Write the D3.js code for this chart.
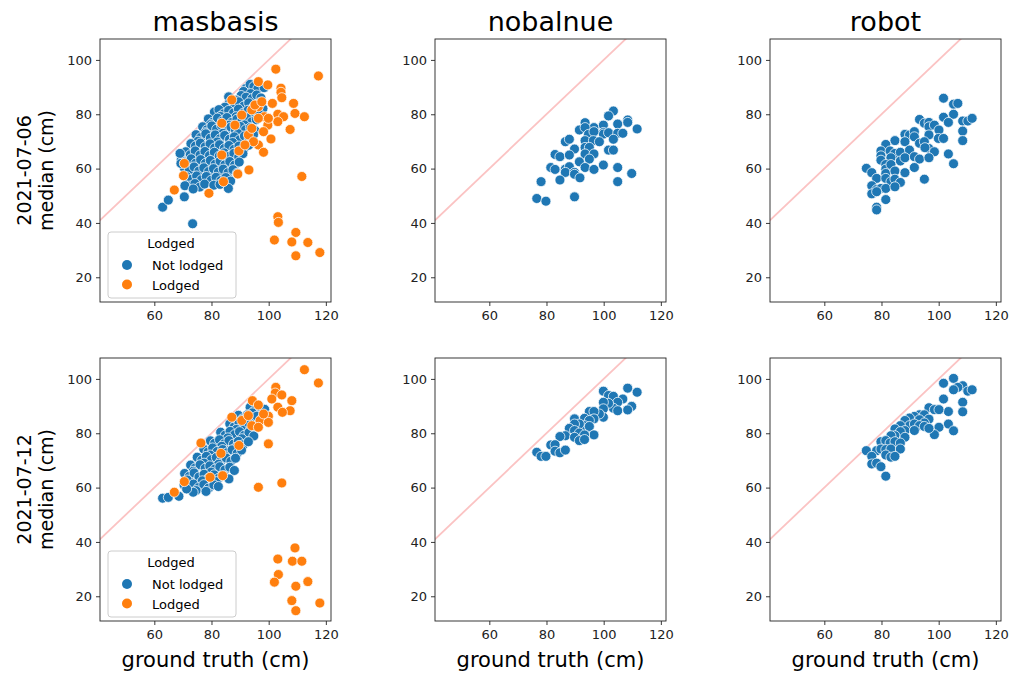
<!DOCTYPE html>
<html>
<head>
<meta charset="utf-8">
<script src="https://cdn.jsdelivr.net/npm/d3@7"></script>
<style>
  body { margin: 0; background: #fff; }
  svg { font-family: "DejaVu Sans", sans-serif; }
</style>
</head>
<body>
<div id="chart"></div>
<script>
const methods = ['masbasis', 'nobalnue', 'robot'];
const dates = ['2021-07-06', '2021-07-12'];
const xTicks = [60, 80, 100, 120];
const yTicks = [20, 40, 60, 80, 100];
const hueLabels = ['Not lodged', 'Lodged'];
const hueColors = ['#1f77b4', '#ff7f0e'];

// points are [ground truth, median]
const masbasis0706NotLodged = [
  [92.0, 89.5], [93.5, 91.0], [94.8, 90.2], [96.2, 89.4], [98.4, 89.8], [91.2, 88.4], [93.7, 87.6],
  [86.0, 86.4], [90.4, 86.9], [92.1, 86.3], [94.2, 85.8], [95.8, 87.1], [97.3, 86.0], [88.6, 85.2], [96.9, 84.3],
  [86.2, 84.1], [87.9, 83.2], [89.5, 84.6], [91.3, 83.0], [93.0, 84.2], [94.8, 82.7], [96.1, 83.5], [84.7, 82.6], [98.0, 82.1],
  [81.0, 80.8], [82.6, 81.7], [84.3, 80.2], [86.0, 81.4], [87.7, 80.5], [89.4, 81.9], [91.1, 80.4], [92.8, 81.5],
  [94.5, 79.9], [96.3, 80.9], [83.1, 79.2], [88.6, 79.1],
  [78.9, 78.3], [80.5, 77.1], [82.1, 78.6], [83.8, 77.5], [85.4, 78.8], [87.1, 77.0], [88.9, 78.2], [90.6, 77.4],
  [92.3, 78.7], [94.0, 77.2], [95.7, 78.0], [79.7, 76.2], [86.2, 76.0], [91.5, 76.1],
  [76.9, 75.4], [78.4, 74.3], [80.1, 75.7], [81.8, 74.5], [83.5, 75.9], [85.1, 74.2], [86.8, 75.3], [88.4, 74.0],
  [90.1, 75.5], [91.9, 74.3], [93.6, 75.1], [95.2, 74.0], [77.8, 73.2], [84.0, 73.0], [89.3, 72.9],
  [74.6, 72.5], [76.2, 71.4], [78.0, 72.8], [79.6, 71.2], [81.3, 72.4], [83.0, 71.0], [84.6, 72.2], [86.3, 70.8],
  [88.0, 71.7], [89.8, 70.6], [91.5, 72.0], [93.2, 71.0], [94.7, 72.5], [75.3, 70.1], [82.0, 69.8], [87.4, 69.6],
  [72.8, 69.2], [74.4, 68.3], [76.1, 69.4], [77.8, 68.0], [79.5, 69.1], [81.1, 67.6], [82.8, 68.8], [84.5, 67.4],
  [86.1, 68.5], [87.9, 67.1], [89.6, 68.3], [91.3, 67.2], [93.0, 68.6],
  [71.0, 66.2], [72.6, 65.1], [74.3, 66.5], [76.0, 65.0], [77.7, 66.3], [79.3, 64.8], [81.0, 66.0], [82.7, 64.6],
  [84.4, 65.8], [86.1, 64.5], [87.8, 65.6], [89.5, 64.3], [91.0, 65.5],
  [69.4, 63.2], [71.2, 62.4], [72.9, 63.6], [74.5, 62.0], [76.2, 63.3], [77.9, 61.9], [79.6, 63.0], [81.3, 61.6],
  [83.0, 62.8], [84.7, 61.4], [86.4, 62.6], [88.1, 61.3], [89.7, 62.4],
  [70.5, 60.2], [72.2, 59.4], [73.9, 60.6], [75.6, 59.1], [77.3, 60.3], [79.0, 58.9], [80.7, 60.0], [82.4, 58.7],
  [84.1, 59.8], [85.8, 58.5], [87.5, 59.6], [89.0, 58.3],
  [71.4, 57.0], [73.1, 56.1], [74.8, 57.3], [76.5, 55.9], [78.2, 57.1], [79.9, 55.7], [81.6, 56.8], [83.3, 55.6],
  [85.0, 56.7], [86.7, 55.4],
  [72.5, 53.6], [74.2, 54.5], [75.9, 53.2], [77.6, 54.3], [80.8, 53.9], [83.0, 54.2], [85.9, 52.7], [70.7, 53.7],
  [62.9, 45.8], [64.9, 48.4], [73.4, 39.7], [70.5, 49.6], [73.6, 52.5], [69.0, 65.6], [69.3, 61.9]
];
const masbasis0706Lodged = [
  [102.5, 96.6], [117.4, 94.1], [96.4, 92.0], [99.7, 90.8], [104.3, 89.6], [104.3, 88.1], [104.6, 86.1],
  [101.3, 84.0], [108.7, 84.0], [98.5, 79.1], [103.2, 80.0], [105.2, 79.1], [109.2, 80.3], [112.5, 79.1],
  [103.2, 77.3], [96.4, 82.8], [94.1, 81.6], [96.4, 78.5], [99.7, 76.0], [99.9, 78.5], [107.5, 74.4],
  [100.8, 70.9], [96.4, 68.7], [98.2, 66.0], [89.6, 66.5], [93.1, 59.5], [89.2, 58.0], [83.6, 65.0],
  [79.1, 50.9], [67.0, 52.1], [70.5, 61.9], [70.2, 57.4], [111.6, 57.1],
  [90.6, 79.7], [88.2, 76.0], [92.9, 72.4], [94.1, 74.8], [95.2, 83.4], [97.6, 84.6], [87.1, 85.3],
  [83.6, 76.7], [98.2, 73.6], [94.7, 69.9], [91.7, 68.7], [84.2, 55.2],
  [103.2, 42.3], [103.4, 40.2], [102.0, 33.7], [109.5, 36.5], [108.1, 33.0], [113.7, 32.8], [109.5, 27.9], [117.9, 29.1]
];
const nobalnue0706 = [
  [103.4, 81.2], [101.7, 79.4], [108.4, 77.9], [108.4, 77.0], [104.9, 76.4], [111.7, 74.6], [93.5, 76.9],
  [96.6, 75.1], [99.9, 76.0], [91.5, 74.2], [93.5, 75.1], [94.7, 72.6], [99.9, 73.3], [99.9, 72.7],
  [101.7, 73.2], [104.9, 73.0], [106.7, 73.0], [96.6, 73.6], [86.6, 69.9], [88.0, 70.8], [93.5, 70.3],
  [96.4, 70.3], [98.5, 69.9], [103.4, 70.8], [89.8, 67.2], [93.5, 67.8], [95.0, 67.8], [101.7, 66.8],
  [103.4, 66.8], [83.0, 65.2], [84.7, 64.4], [88.0, 65.0], [93.5, 65.4], [96.6, 65.4], [95.0, 63.5],
  [91.5, 62.5], [81.5, 60.4], [83.0, 59.7], [86.6, 59.8], [88.0, 60.7], [93.5, 60.4], [96.6, 59.7],
  [99.9, 61.3], [104.9, 60.4], [86.6, 58.6], [89.8, 58.6], [89.8, 57.9], [91.7, 56.6], [84.7, 55.8],
  [78.1, 55.2], [104.9, 55.2], [109.8, 58.2], [76.6, 49.0], [79.8, 48.0], [89.8, 49.6]
];
const robot0706 = [
  [101.7, 85.9], [105.2, 83.7], [106.7, 84.0], [105.2, 80.0], [101.7, 78.9], [103.4, 77.0], [108.4, 77.5],
  [110.2, 77.5], [111.7, 78.5], [93.3, 78.1], [95.0, 76.7], [96.6, 77.0], [96.6, 75.4], [98.5, 76.0],
  [100.1, 74.2], [99.9, 71.1], [101.7, 71.1], [108.4, 73.8], [108.4, 70.3], [88.2, 72.6], [89.8, 72.4],
  [91.5, 73.6], [91.5, 71.7], [96.6, 72.4], [84.7, 70.3], [88.2, 69.9], [81.5, 68.9], [93.3, 69.3],
  [95.0, 69.9], [96.6, 67.4], [95.2, 67.7], [98.5, 66.2], [103.4, 65.4], [105.2, 61.8], [79.8, 66.5],
  [79.8, 64.7], [79.8, 63.1], [83.0, 66.5], [84.7, 65.6], [86.6, 66.0], [89.8, 66.8], [83.3, 64.0],
  [86.6, 62.8], [88.2, 64.0], [91.5, 64.4], [93.3, 63.5], [96.6, 64.0], [81.5, 61.5], [81.5, 59.8],
  [83.3, 61.5], [74.7, 60.1], [76.6, 58.5], [81.5, 58.2], [84.7, 59.1], [88.2, 58.5], [91.5, 60.4],
  [78.3, 56.4], [81.5, 56.4], [83.3, 55.2], [84.7, 56.1], [86.6, 54.9], [95.0, 56.1], [76.6, 53.7],
  [78.3, 52.3], [79.8, 52.7], [81.5, 52.7], [84.7, 53.3], [76.6, 50.7], [78.3, 51.5], [81.5, 48.6],
  [78.3, 45.8], [78.3, 44.8]
];
const masbasis0712NotLodged = [
  [93.5, 89.6], [95.2, 88.4], [96.8, 89.9], [98.6, 88.8], [94.3, 87.5],
  [89.4, 86.6], [90.9, 85.3], [92.6, 86.8], [94.1, 85.6], [95.9, 86.3], [97.4, 85.1], [91.7, 84.4],
  [86.4, 83.5], [87.9, 82.3], [89.6, 83.8], [91.1, 82.6], [92.8, 83.9], [94.5, 82.4], [96.2, 83.2], [88.7, 81.4], [93.6, 81.2],
  [83.2, 80.4], [84.8, 79.3], [86.5, 80.7], [88.1, 79.5], [89.8, 80.6], [91.4, 79.2], [93.1, 80.3], [94.8, 79.0],
  [85.7, 78.3], [90.6, 78.0],
  [79.6, 77.2], [81.1, 76.3], [82.8, 77.6], [84.4, 76.1], [86.1, 77.3], [87.7, 76.0], [89.4, 77.0], [91.2, 75.8],
  [92.9, 76.9], [83.6, 75.2], [88.6, 74.8],
  [77.3, 74.2], [78.8, 73.1], [80.4, 74.6], [82.0, 73.3], [83.9, 74.0], [85.4, 72.8], [87.2, 73.9], [89.0, 72.6],
  [90.5, 73.8], [79.5, 72.0], [84.6, 71.7],
  [75.0, 71.2], [76.6, 70.1], [78.2, 71.5], [80.0, 70.3], [81.7, 71.1], [83.3, 69.8], [85.1, 70.9], [86.8, 69.7],
  [88.4, 70.8], [77.4, 69.0], [82.5, 68.6],
  [72.7, 68.3], [74.3, 67.2], [76.0, 68.4], [77.8, 67.1], [79.4, 68.0], [81.2, 66.8], [82.9, 67.7], [84.7, 66.5],
  [86.4, 67.5], [88.0, 66.3], [73.6, 66.0], [79.9, 65.7],
  [70.6, 65.2], [72.2, 64.1], [73.9, 65.4], [75.6, 63.9], [77.4, 64.9], [79.1, 63.6], [80.9, 64.7], [82.6, 63.5],
  [84.4, 64.3], [86.1, 63.2], [71.5, 62.8], [76.8, 62.5], [81.7, 62.2],
  [70.4, 61.0], [72.0, 60.2], [73.7, 61.3], [75.5, 60.0], [77.3, 61.1], [79.0, 59.8], [80.8, 61.0], [82.4, 60.4],
  [74.6, 58.9], [78.1, 58.6],
  [62.9, 56.1], [64.9, 56.4], [68.6, 56.8], [73.6, 58.3], [71.3, 59.5]
];
const masbasis0712Lodged = [
  [112.5, 103.4], [117.4, 98.5], [102.5, 96.9], [102.3, 94.8], [101.1, 92.6], [104.6, 94.1], [108.1, 92.0],
  [103.2, 89.6], [107.5, 88.3], [104.8, 87.7], [94.3, 92.0], [96.4, 90.4], [99.9, 86.3], [97.0, 84.7],
  [94.1, 82.8], [96.4, 82.2], [99.9, 84.0], [98.2, 87.1], [99.9, 76.1], [89.6, 75.5], [83.3, 72.6],
  [76.3, 76.4], [79.5, 63.8], [83.9, 64.4], [70.5, 62.2], [67.0, 58.3], [96.4, 60.1], [104.6, 61.7],
  [90.6, 84.7], [92.9, 86.5], [87.1, 85.9],
  [109.2, 37.8], [103.2, 33.7], [108.3, 32.9], [111.6, 32.9], [103.4, 28.0], [102.0, 25.2], [109.5, 23.7],
  [113.7, 25.4], [108.1, 18.4], [109.5, 14.7], [117.9, 17.5]
];
const nobalnue0712 = [
  [99.9, 95.5], [101.7, 93.9], [103.4, 93.6], [108.4, 96.6], [111.7, 95.1], [106.7, 92.6], [104.9, 91.4],
  [103.4, 89.2], [104.9, 88.3], [101.7, 91.0], [99.9, 91.4], [99.9, 89.0], [109.8, 89.9], [108.4, 88.6],
  [99.9, 85.9], [98.5, 87.1], [95.0, 88.0], [96.6, 88.0], [96.6, 85.3], [93.3, 85.5], [95.0, 84.7],
  [93.3, 82.8], [95.0, 82.5], [96.6, 79.4], [89.8, 85.3], [91.5, 83.4], [89.8, 83.4], [88.0, 81.8],
  [89.8, 81.0], [86.6, 79.1], [84.7, 78.8], [91.5, 80.1], [93.3, 79.4], [89.8, 78.5], [91.5, 77.3],
  [93.3, 77.7], [81.5, 75.7], [83.0, 75.8], [83.0, 73.4], [84.7, 72.8], [86.6, 73.8], [76.6, 73.0],
  [78.1, 71.5], [79.8, 71.5]
];
const robot0712 = [
  [105.2, 100.2], [101.7, 98.4], [108.4, 97.5], [106.7, 96.9], [105.2, 96.0], [110.2, 95.5], [111.7, 96.0],
  [101.7, 92.6], [108.4, 91.4], [103.4, 88.0], [108.4, 87.9], [96.6, 89.4], [98.5, 88.7], [100.1, 88.7],
  [103.4, 83.4], [105.2, 80.9], [100.1, 82.2], [98.5, 79.5], [93.3, 86.8], [95.0, 86.8], [96.6, 85.2],
  [91.5, 86.2], [89.8, 85.6], [93.3, 85.0], [95.0, 83.8], [88.2, 84.7], [89.8, 82.8], [91.5, 83.4],
  [93.3, 82.8], [95.0, 82.5], [96.6, 81.8], [86.6, 82.8], [88.2, 81.0], [91.5, 81.0], [84.7, 81.6],
  [86.6, 80.6], [84.7, 79.1], [88.2, 78.5], [83.3, 79.1], [79.8, 76.9], [81.5, 77.3], [83.0, 76.4],
  [84.7, 76.9], [86.6, 76.4], [78.3, 73.6], [79.8, 74.2], [81.5, 74.0], [83.3, 74.2], [86.6, 74.2],
  [74.7, 73.6], [76.6, 71.5], [81.5, 72.0], [83.3, 71.2], [84.7, 71.5], [76.6, 68.7], [78.3, 69.0],
  [79.8, 67.7], [81.5, 64.2]
];

const panels = [
  { row: 0, col: 0, groups: [masbasis0706NotLodged, masbasis0706Lodged], legend: true },
  { row: 0, col: 1, groups: [nobalnue0706, []] },
  { row: 0, col: 2, groups: [robot0706, []] },
  { row: 1, col: 0, groups: [masbasis0712NotLodged, masbasis0712Lodged], legend: true },
  { row: 1, col: 1, groups: [nobalnue0712, []] },
  { row: 1, col: 2, groups: [robot0712, []] }
];

const width = 1012;
const height = 673;
const panelW = 231;
const panelH = 263;
const colX = [100, 435, 770];
const rowY = [39, 358];

const x = d3.scaleLinear().domain([41, 121.8]).range([0, panelW]);
const y = d3.scaleLinear().domain([10.9, 107.7]).range([panelH, 0]);

const svg = d3.select('#chart').append('svg')
  .attr('width', width)
  .attr('height', height);

svg.append('defs').append('clipPath')
  .attr('id', 'plot-clip')
  .append('rect')
  .attr('width', panelW)
  .attr('height', panelH);

panels.forEach(p => {
  const g = svg.append('g')
    .attr('transform', `translate(${colX[p.col]},${rowY[p.row]})`);

  const xAxis = g.append('g')
    .attr('transform', `translate(0,${panelH})`)
    .call(d3.axisBottom(x).tickValues(xTicks).tickSize(4).tickPadding(5));
  const yAxis = g.append('g')
    .call(d3.axisLeft(y).tickValues(yTicks).tickSize(4).tickPadding(4));

  [xAxis, yAxis].forEach(a => {
    a.select('.domain').remove();
    a.selectAll('line').attr('stroke', '#222').attr('stroke-width', 0.9);
    a.selectAll('text')
      .attr('fill', '#222')
      .style('font-size', '13px')
      .style('font-family', '"DejaVu Sans", sans-serif');
  });

  const plot = g.append('g').attr('clip-path', 'url(#plot-clip)');

  // identity line
  plot.append('line')
    .attr('x1', x(0)).attr('y1', y(0))
    .attr('x2', x(130)).attr('y2', y(130))
    .attr('stroke', '#fbc3c3')
    .attr('stroke-width', 1.8);

  p.groups.forEach((pts, i) => {
    plot.append('g')
      .selectAll('circle')
      .data(pts)
      .join('circle')
      .attr('cx', d => x(d[0]))
      .attr('cy', d => y(d[1]))
      .attr('r', 5)
      .attr('fill', hueColors[i])
      .attr('stroke', '#fff')
      .attr('stroke-width', 0.75);
  });

  g.append('rect')
    .attr('width', panelW)
    .attr('height', panelH)
    .attr('fill', 'none')
    .attr('stroke', '#222')
    .attr('stroke-width', 0.9);

  if (p.row === 0) {
    g.append('text')
      .attr('x', panelW / 2)
      .attr('y', -8)
      .attr('text-anchor', 'middle')
      .style('font-size', '27px')
      .text(methods[p.col]);
  }
  if (p.row === 1) {
    g.append('text')
      .attr('x', panelW / 2)
      .attr('y', panelH + 46)
      .attr('text-anchor', 'middle')
      .style('font-size', '21px')
      .text('ground truth (cm)');
  }
  if (p.col === 0) {
    const lbl = g.append('text')
      .attr('transform', `translate(${-69},${panelH / 2}) rotate(-90)`)
      .attr('text-anchor', 'middle')
      .style('font-size', '19px');
    lbl.append('tspan').attr('x', 0).attr('dy', 0).text(dates[p.row]);
    lbl.append('tspan').attr('x', 0).attr('dy', 22).text('median (cm)');
  }

  if (p.legend) {
    const lg = g.append('g').attr('transform', 'translate(8,193)');
    lg.append('rect')
      .attr('width', 128)
      .attr('height', 66)
      .attr('rx', 3)
      .attr('fill', '#fff')
      .attr('fill-opacity', 0.8)
      .attr('stroke', '#cccccc');
    lg.append('text')
      .attr('x', 63)
      .attr('y', 16)
      .attr('text-anchor', 'middle')
      .style('font-size', '13px')
      .text('Lodged');
    hueLabels.forEach((lab, i) => {
      lg.append('circle')
        .attr('cx', 19)
        .attr('cy', 33 + i * 19.5)
        .attr('r', 5)
        .attr('fill', hueColors[i]);
      lg.append('text')
        .attr('x', 44)
        .attr('y', 38 + i * 19.5)
        .style('font-size', '13px')
        .text(lab);
    });
  }
});
</script>
</body>
</html>
